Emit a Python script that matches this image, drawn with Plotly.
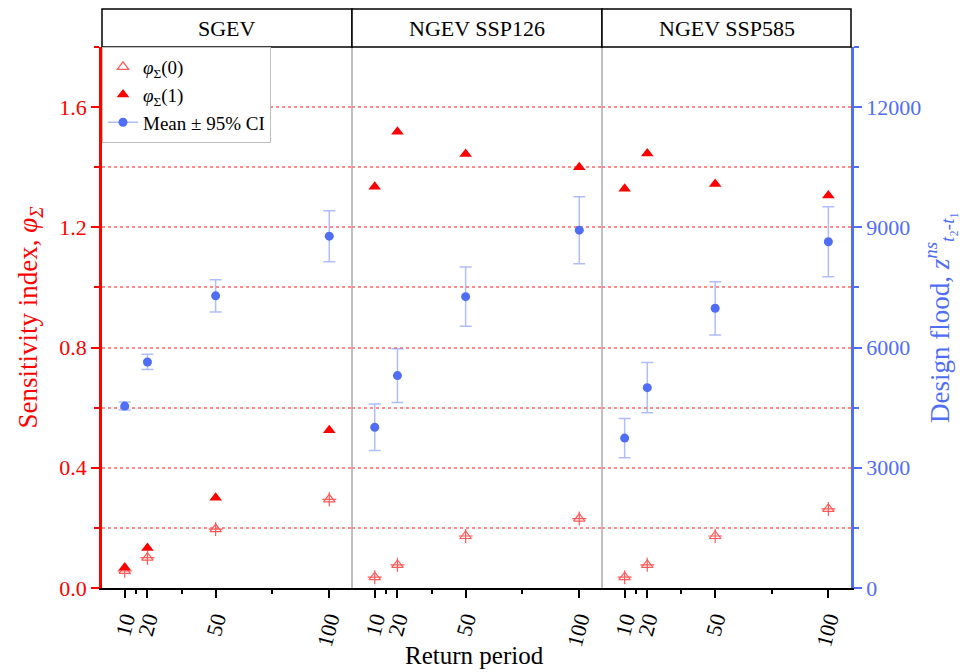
import plotly.graph_objects as go

# ---------------- data ----------------
return_periods = [10, 20, 50, 100]
panels = ["SGEV", "NGEV SSP126", "NGEV SSP585"]

phi0_sgev = [0.057, 0.101, 0.196, 0.295]
phi0_ssp126 = [0.036, 0.077, 0.173, 0.231]
phi0_ssp585 = [0.036, 0.077, 0.173, 0.263]

phi1_sgev = [0.068, 0.133, 0.300, 0.525]
phi1_ssp126 = [1.335, 1.518, 1.444, 1.400]
phi1_ssp585 = [1.328, 1.446, 1.344, 1.306]

mean_sgev = [4540, 5640, 7290, 8780]
mean_ssp126 = [4010, 5300, 7270, 8930]
mean_ssp585 = [3740, 5000, 6980, 8640]

ci_sgev = [100, 190, 400, 636]
ci_ssp126 = [580, 670, 740, 836]
ci_ssp585 = [490, 624, 665, 873]

x_major_ticks = [10, 20, 50, 100]
x_minor_ticks = [15, 35, 75]
y_left_ticks = [0.0, 0.4, 0.8, 1.2, 1.6]
y_left_labels = ["0.0", "0.4", "0.8", "1.2", "1.6"]
y_right_ticks = [0, 3000, 6000, 9000, 12000]

# ---------------- style ----------------
FONT = "Liberation Serif"
RED = "rgb(255,0,0)"
LIGHT_RED = "rgb(255,90,90)"
BLUE = "rgb(80,110,245)"
LIGHT_BLUE = "rgba(110,135,250,0.55)"
GRID = "#ff8c8c"

phi0_all = [phi0_sgev, phi0_ssp126, phi0_ssp585]
phi1_all = [phi1_sgev, phi1_ssp126, phi1_ssp585]
mean_all = [mean_sgev, mean_ssp126, mean_ssp585]
ci_all = [ci_sgev, ci_ssp126, ci_ssp585]

xaxes = ["x", "x2", "x3"]

fig = go.Figure()

for i, xa in enumerate(xaxes):
    fig.add_trace(go.Scatter(
        x=return_periods, y=phi0_all[i], xaxis=xa, yaxis="y", mode="markers",
        marker=dict(symbol="triangle-up-open", size=10, color=LIGHT_RED,
                    line=dict(width=1.2, color=LIGHT_RED)),
        name="<i>φ</i><sub>Σ</sub>(0)", legendgroup="p0", showlegend=(i == 0),
        legendrank=1,
    ))
    fig.add_trace(go.Scatter(
        x=return_periods, y=phi0_all[i], xaxis=xa, yaxis="y", mode="markers",
        marker=dict(symbol="cross-thin-open", size=10, color=LIGHT_RED,
                    line=dict(width=1.2, color=LIGHT_RED)),
        legendgroup="p0", showlegend=False, hoverinfo="skip",
    ))
    fig.add_trace(go.Scatter(
        x=return_periods, y=phi1_all[i], xaxis=xa, yaxis="y", mode="markers",
        marker=dict(symbol="triangle-up", size=11, color=RED),
        name="<i>φ</i><sub>Σ</sub>(1)", legendgroup="p1", showlegend=(i == 0),
        legendrank=2,
    ))

for i, xa in enumerate(xaxes):
    fig.add_trace(go.Scatter(
        x=return_periods, y=mean_all[i], xaxis=xa, yaxis="y2", mode="markers",
        marker=dict(symbol="circle", size=9, color=BLUE),
        error_y=dict(type="data", array=ci_all[i], visible=True,
                     color=LIGHT_BLUE, thickness=1.5, width=6),
        legendgroup="m", showlegend=False,
    ))

fig.add_trace(go.Scatter(
    x=[None], y=[None], xaxis="x", yaxis="y2", mode="lines+markers",
    marker=dict(symbol="circle", size=9, color=BLUE),
    line=dict(color=LIGHT_BLUE, width=1.5),
    name="Mean ± 95% CI", legendgroup="m", showlegend=True, legendrank=3,
))

# ---------------- layout ----------------
L, R = 102, 851
W = R - L
bounds = [0, 250 / W, 500 / W, 1.0]

xcommon = dict(
    range=[0, 110], tickmode="array", tickvals=x_major_ticks,
    ticktext=[str(v) for v in x_major_ticks],
    ticks="outside", ticklen=8, tickwidth=2, tickcolor="black",
    showline=True, linecolor="black", linewidth=2, showgrid=False,
    zeroline=False, tickangle=-75, automargin=False,
    tickfont=dict(family=FONT, size=22, color="black"),
    minor=dict(tickmode="array", tickvals=x_minor_ticks, ticks="outside",
               ticklen=4, tickwidth=2, tickcolor="black", showgrid=False),
    anchor="y",
)

layout = dict(
    width=979, height=672,
    margin=dict(l=L, r=979 - R, t=47, b=84, autoexpand=False),
    paper_bgcolor="white", plot_bgcolor="white",
    font=dict(family=FONT, size=18, color="black"),
    showlegend=True,
    legend=dict(
        x=0.0, y=1.0, xanchor="left", yanchor="top",
        bgcolor="white", bordercolor="rgb(190,190,190)", borderwidth=1,
        font=dict(family=FONT, size=19, color="black"),
        tracegroupgap=0, itemwidth=30,
    ),
    yaxis=dict(
        range=[0, 1.8], tickmode="array", tickvals=y_left_ticks,
        ticktext=y_left_labels,
        ticks="outside", ticklen=8, tickwidth=2, tickcolor=RED,
        showline=True, linecolor=RED, linewidth=2.5,
        showgrid=True, gridcolor=GRID, griddash="dot", gridwidth=1.5,
        zeroline=False, anchor="x", side="left", automargin=False,
        tickfont=dict(family=FONT, size=22, color=RED),
        title=dict(text="Sensitivity index, <i>φ</i><sub><i>Σ</i></sub>",
                   font=dict(family=FONT, size=27, color=RED), standoff=14),
        minor=dict(dtick=0.2, tick0=0, ticks="outside", ticklen=5, tickwidth=2,
                   tickcolor=RED, showgrid=True, gridcolor=GRID,
                   griddash="dot", gridwidth=1.5),
    ),
    yaxis2=dict(
        range=[0, 13500], tickmode="array", tickvals=y_right_ticks,
        ticktext=[str(v) for v in y_right_ticks],
        ticks="outside", ticklen=8, tickwidth=2, tickcolor=BLUE,
        showline=True, linecolor=BLUE, linewidth=2.5, showgrid=False,
        zeroline=False, overlaying="y", anchor="x3", side="right",
        automargin=False,
        tickfont=dict(family=FONT, size=22, color=BLUE),
        title=dict(text="Design flood, <i>z</i><sup><i>ns</i></sup><sub><i>t</i>₂-<i>t</i>₁</sub>",
                   font=dict(family=FONT, size=27, color=BLUE), standoff=10),
        minor=dict(dtick=1500, tick0=0, ticks="outside", ticklen=5, tickwidth=2,
                   tickcolor=BLUE, showgrid=False),
    ),
)
for i, xa in enumerate(xaxes):
    key = "xaxis" if i == 0 else f"xaxis{i + 1}"
    layout[key] = dict(xcommon, domain=[bounds[i], bounds[i + 1]])

fig.update_layout(**layout)

shapes = []
for b in bounds[1:-1]:
    shapes.append(dict(type="line", xref="paper", yref="paper", x0=b, x1=b,
                       y0=0, y1=1, line=dict(color="rgb(170,170,170)", width=1.5),
                       layer="above"))
head_top = 1 + 38 / 541
for i in range(3):
    shapes.append(dict(type="rect", xref="paper", yref="paper",
                       x0=bounds[i], x1=bounds[i + 1], y0=1, y1=head_top,
                       line=dict(color="black", width=1.5), fillcolor="white"))
fig.update_layout(shapes=shapes)

annotations = []
for i, p in enumerate(panels):
    annotations.append(dict(
        text=p, xref="paper", yref="paper",
        x=(bounds[i] + bounds[i + 1]) / 2, y=(1 + head_top) / 2,
        xanchor="center", yanchor="middle", showarrow=False,
        font=dict(family=FONT, size=22, color="black"),
    ))
annotations.append(dict(
    text="Return period", xref="paper", yref="paper", x=0.497, y=-0.124,
    xanchor="center", yanchor="middle", showarrow=False,
    font=dict(family=FONT, size=25, color="black"),
))
fig.update_layout(annotations=annotations)

fig.write_html(
    "out.html",
    config={"displayModeBar": False},
    post_script="document.body.style.margin='0';document.body.style.padding='0';",
)
